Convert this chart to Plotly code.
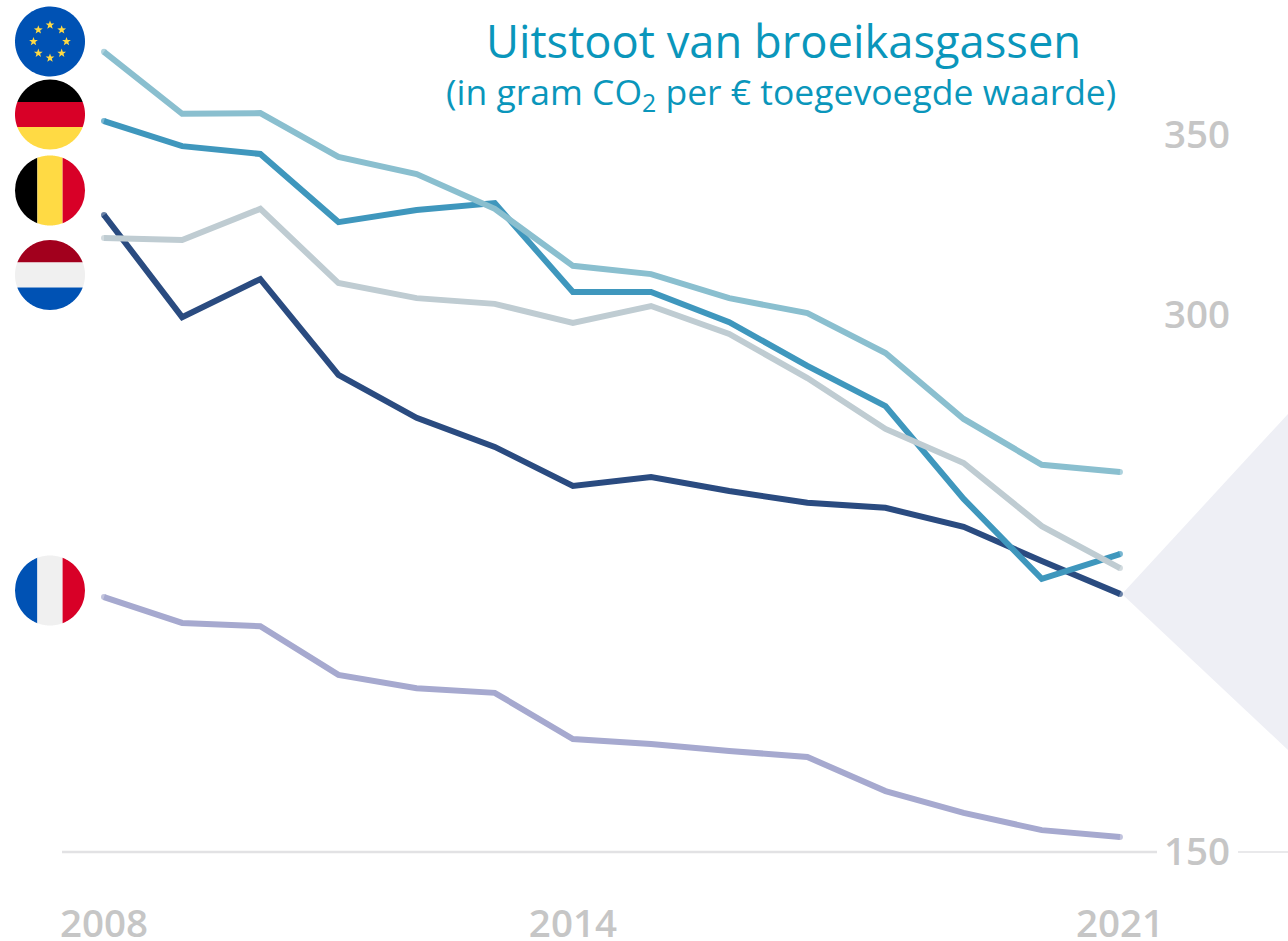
import numpy as np
import plotly.graph_objects as go

years = list(range(2008, 2022))
eu = [373.2, 355.9, 356.1, 343.9, 339.1, 329.4, 313.5, 311.2, 304.5, 300.3, 289.2, 270.8, 258.0, 256.0]
de = [353.9, 346.9, 344.7, 325.7, 329.1, 331.0, 306.2, 306.2, 297.8, 285.6, 274.4, 248.5, 226.2, 233.1]
be = [327.7, 299.2, 309.8, 283.1, 271.1, 263.0, 252.1, 254.6, 250.7, 247.4, 246.0, 240.7, 231.2, 222.0]
nl = [321.3, 320.7, 329.4, 308.7, 304.5, 302.9, 297.6, 302.3, 294.5, 282.2, 268.0, 258.5, 240.9, 229.2]
fr = [221.1, 213.9, 213.0, 199.4, 195.7, 194.4, 181.5, 180.1, 178.2, 176.5, 167.0, 160.9, 156.1, 154.2]
x_ticks = [2008, 2014, 2021]
y_ticks = [150, 300, 350]
title = "Uitstoot van broeikasgassen"
subtitle = "(in gram CO<sub>2</sub> per € toegevoegde waarde)"

W, H, BOTTOM = 1288, 941, 881
PX_X, PX_Y = 78.15, 3.585
x0 = 2008 - 104 / PX_X
x1 = x0 + W / PX_X
y1 = 150 + 852 / PX_Y
y0 = y1 - BOTTOM / PX_Y
GREY = "#c6c6c6"
BLUE, RED, YEL, WHT, BLK, DRED = "#0052b4", "#d80027", "#ffda44", "#f0f0f0", "#000000", "#a2001d"


def fx(p):
    return p / W


def fy(p):
    return 1 - p / BOTTOM


def poly(points, color, layer="above", line=None):
    d = "M" + " L".join(f"{fx(a):.5f},{fy(b):.5f}" for a, b in points) + " Z"
    return dict(type="path", xref="paper", yref="paper", path=d, fillcolor=color,
                line=dict(width=0), layer=layer)


def stripe(cx, cy, r, a, b, color, vertical):
    s = np.linspace(a, b, 40)
    h = np.sqrt(np.maximum(r * r - s * s, 0))
    pts = list(zip(s, -h)) + list(zip(s[::-1], h[::-1]))
    if vertical:
        pts = [(cx + u, cy + v) for u, v in pts]
    else:
        pts = [(cx + v, cy + u) for u, v in pts]
    return poly(pts, color)


def flag(cy, colors, vertical, cx=50, r=35, edge=12.6):
    lims = [-r, -edge, edge, r]
    return [stripe(cx, cy, r, lims[i], lims[i + 1], colors[i], vertical) for i in range(3)]


shapes = []
# background wedge
shapes.append(poly([(1122, 594), (1288, 414), (1288, 750)], "#eeeff5", "below"))
# baseline
for a, b, w, c in [(62, 1157, 2.5, "#e2e2e4"), (1238, 1288, 1.5, "#e2e2e4")]:
    shapes.append(dict(type="line", xref="paper", yref="y", x0=fx(a), x1=fx(b), y0=150, y1=150,
                       line=dict(color=c, width=w), layer="below"))
# flags
t = np.linspace(0, 2 * np.pi, 90)
shapes.append(poly(list(zip(50 + 35 * np.cos(t), 41.5 + 35 * np.sin(t))), BLUE))
for k in range(8):
    ang = k * np.pi / 4
    sx, sy = 50 + 16.5 * np.cos(ang), 41.5 + 16.5 * np.sin(ang)
    star = []
    for j in range(10):
        rr = 4.6 if j % 2 == 0 else 1.9
        a = -np.pi / 2 + j * np.pi / 5
        star.append((sx + rr * np.cos(a), sy + rr * np.sin(a)))
    shapes.append(poly(star, YEL))
shapes += flag(114.5, [BLK, RED, YEL], False)
shapes += flag(190.5, [BLK, YEL, RED], True)
shapes += flag(275, [DRED, WHT, BLUE], False)
shapes += flag(590.5, [BLUE, WHT, RED], True)

fig = go.Figure()
series = [("Frankrijk", fr, "#a6a9cf"), ("België", be, "#2a4b80"), ("Duitsland", de, "#3f97bd"),
          ("Nederland", nl, "#bfccd2"), ("EU", eu, "#8abfcf")]
for name, vals, col in series:
    sizes = [6] + [0] * (len(vals) - 2) + [6]
    fig.add_trace(go.Scatter(x=years, y=vals, name=name, mode="lines+markers",
                             line=dict(color=col, width=6, shape="linear"),
                             marker=dict(color=col, size=sizes, line=dict(width=0))))

tick_font = dict(family="Open Sans", size=38.5, color=GREY, weight=600)
fig.update_layout(
    width=W, height=H, margin=dict(l=0, r=0, t=0, b=H - BOTTOM, autoexpand=False),
    paper_bgcolor="white", plot_bgcolor="rgba(0,0,0,0)", showlegend=False, shapes=shapes,
    xaxis=dict(range=[x0, x1], tickvals=x_ticks, ticktext=[str(v) for v in x_ticks], showgrid=False,
               zeroline=False, showline=False, ticks="outside", ticklen=9, tickcolor="rgba(0,0,0,0)",
               tickfont=tick_font),
    yaxis=dict(range=[y0, y1], tickvals=y_ticks, ticktext=[str(v) for v in y_ticks], showgrid=False,
               zeroline=False, showline=False, side="right", anchor="free", position=fx(1163),
               ticks="", tickfont=tick_font),
    annotations=[
        dict(text=title, xref="paper", yref="paper", x=fx(783), y=fy(40), xanchor="center", yanchor="middle",
             showarrow=False, font=dict(family="Open Sans", size=45.3, color="#0a96bb")),
        dict(text=subtitle, xref="paper", yref="paper", x=fx(781), y=fy(93), xanchor="center", yanchor="middle",
             showarrow=False, font=dict(family="Open Sans", size=35.5, color="#0a96bb")),
    ],
)
fig.write_html("out.html", config=dict(displayModeBar=False),
               post_script="document.body.style.margin='0';document.documentElement.style.overflow='hidden';")
